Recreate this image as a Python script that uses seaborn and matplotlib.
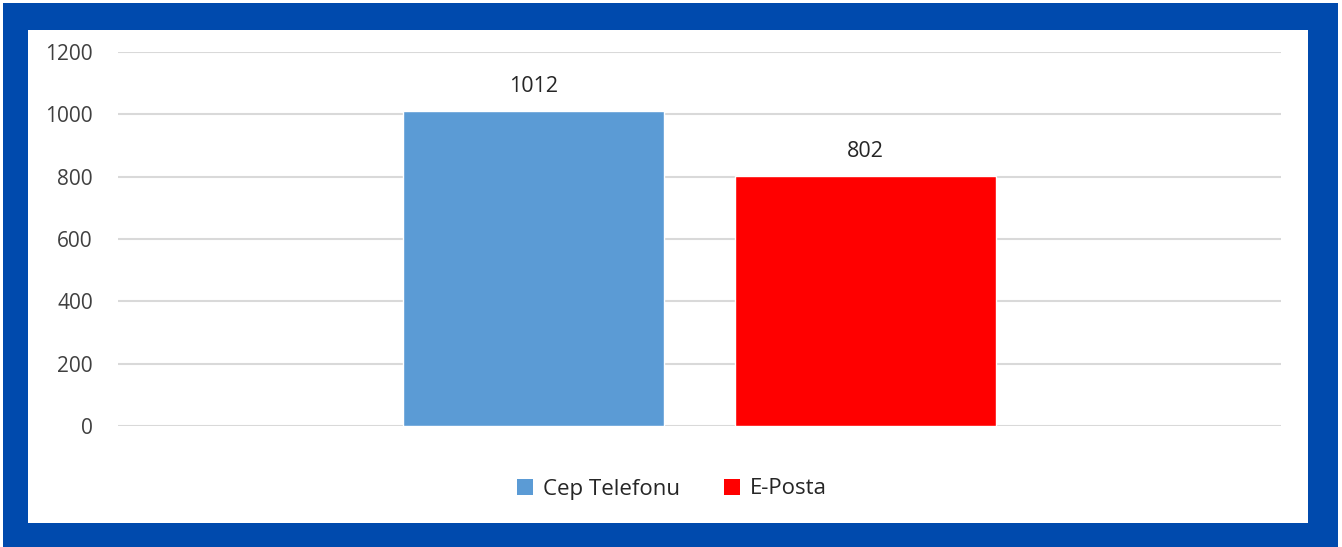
import pandas as pd
import matplotlib.pyplot as plt
import seaborn as sns
from matplotlib.patches import Rectangle

# --- Data ---
categories = ["Toplam"]
series_names = ["Cep Telefonu", "E-Posta"]
values = [1012, 802]
colors = ["#5B9BD5", "#FF0000"]
y_ticks = [0, 200, 400, 600, 800, 1000, 1200]

W, H = 1342, 547

df = pd.DataFrame({
    "kategori": categories * len(series_names),
    "seri": series_names,
    "deger": values,
})

sns.set_theme(style="white")
plt.rcParams["font.family"] = ["Open Sans", "DejaVu Sans"]

fig = plt.figure(figsize=(W / 100, H / 100), dpi=100)
fig.patch.set_facecolor("white")

# blue frame + white chart area
fig.patches.append(Rectangle((3 / W, 0), 1335 / W, 544 / H, transform=fig.transFigure,
                             facecolor="#004AAD", edgecolor="none", zorder=-2))
fig.patches.append(Rectangle((28 / W, 1 - 523 / H), 1280 / W, 493 / H, transform=fig.transFigure,
                             facecolor="white", edgecolor="none", zorder=-1))

ax = fig.add_axes([118 / W, 1 - 426 / H, 1163 / W, 374 / H])
ax.patch.set_alpha(0)

sns.barplot(data=df, x="kategori", y="deger", hue="seri", hue_order=series_names,
            palette=colors, width=0.572, gap=0.215, ax=ax, legend=False,
            saturation=1, zorder=3)

ax.set_xlim(-0.5, 0.5)
ax.set_ylim(0, 1200)
ax.set_yticks(y_ticks)
ax.set_yticklabels([str(t) for t in y_ticks], fontsize=15, color="#404040")
ax.set_xticks([])
ax.set_xlabel("")
ax.set_ylabel("")
ax.tick_params(axis="y", length=0, pad=18)
ax.yaxis.grid(True, color="#D9D9D9", linewidth=1.5, zorder=0)
sns.despine(ax=ax, left=True, bottom=True)

for cont in ax.containers:
    ax.bar_label(cont, fmt="%d", padding=10, fontsize=15.5, color="#262626")

handles = [Rectangle((0, 0), 1, 1, facecolor=c, edgecolor="none") for c in colors]
fig.legend(handles, series_names, loc="center", bbox_to_anchor=(672 / W, 1 - 489 / H),
           ncol=2, frameon=False, fontsize=16, handlelength=0.7, handleheight=0.7,
           handletextpad=0.45, columnspacing=2.0, labelcolor="#262626")

fig.savefig("out.png", dpi=100)
